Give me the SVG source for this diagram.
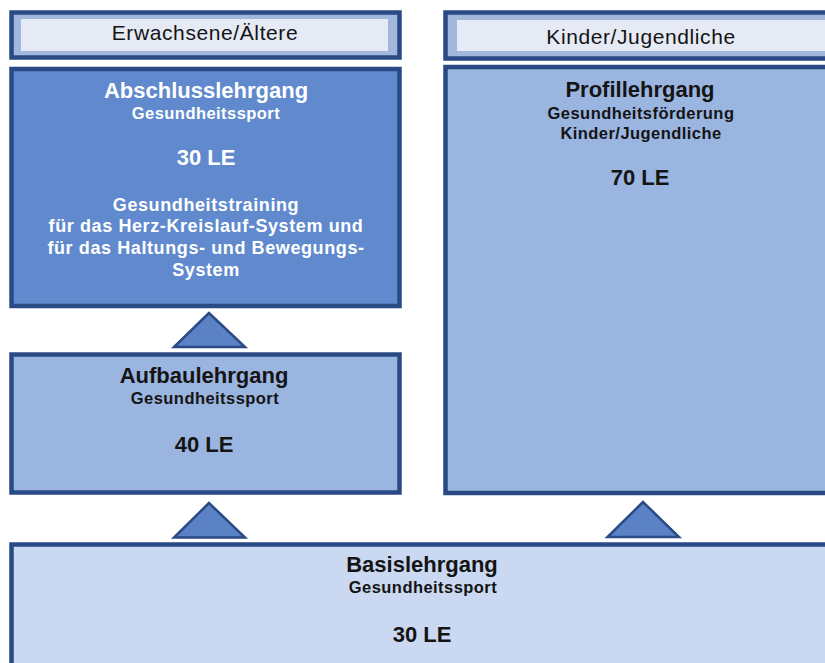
<svg xmlns="http://www.w3.org/2000/svg" width="825" height="663" viewBox="0 0 825 663">
<style>
text{font-family:"Liberation Sans",Arial,sans-serif;text-anchor:middle;fill:#141414}
.hdr{font-size:21px;letter-spacing:0.6px}
.t{font-size:22px;font-weight:bold}
.s{font-size:16.5px;font-weight:bold;letter-spacing:0.45px}
.b{font-size:18px;font-weight:bold;letter-spacing:0.6px}
.w{fill:#ffffff}
.frame{stroke:#294a85;stroke-width:4.5}
.hout{fill:#a2b7dc}
.hin{fill:#e5eaf4}
.tri{fill:#5b82c4;stroke:#294a85;stroke-width:2.5;stroke-linejoin:miter}
</style>
<rect width="825" height="663" fill="#ffffff"/>
<g id="header-left">
<rect class="frame hout" x="11.5" y="12.5" width="388" height="45"/>
<rect class="hin" x="21" y="19" width="367" height="32"/>
<text class="hdr" x="205" y="40">Erwachsene/Ältere</text>
</g>
<g id="header-right">
<rect class="frame hout" x="445.5" y="12.5" width="400" height="46"/>
<rect class="hin" x="457" y="20" width="380" height="31"/>
<text class="hdr" x="641" y="44">Kinder/Jugendliche</text>
</g>
<g id="abschluss">
<rect class="frame" fill="#608acd" x="11.5" y="69" width="388" height="237"/>
<text class="t w" x="206" y="98">Abschlusslehrgang</text>
<text class="s w" x="206" y="119">Gesundheitssport</text>
<text class="t w" x="206" y="165">30 LE</text>
<text class="b w" x="206" y="211">Gesundheitstraining</text>
<text class="b w" x="206" y="232">für das Herz-Kreislauf-System und</text>
<text class="b w" x="206" y="254">für das Haltungs- und Bewegungs-</text>
<text class="b w" x="206" y="276">System</text>
</g>
<g id="profil">
<rect class="frame" fill="#9bb5e1" x="445.5" y="67" width="400" height="426"/>
<text class="t" x="640" y="97">Profillehrgang</text>
<text class="s" x="641" y="119">Gesundheitsförderung</text>
<text class="s" x="641" y="139">Kinder/Jugendliche</text>
<text class="t" x="640" y="185">70 LE</text>
</g>
<g id="aufbau">
<rect class="frame" fill="#9bb5e1" x="11.5" y="354.5" width="388" height="138"/>
<text class="t" x="204" y="383">Aufbaulehrgang</text>
<text class="s" x="205" y="404">Gesundheitssport</text>
<text class="t" x="204" y="452">40 LE</text>
</g>
<g id="basis">
<rect class="frame" fill="#cad8f1" x="11.5" y="544.5" width="830" height="130"/>
<text class="t" x="422" y="572">Basislehrgang</text>
<text class="s" x="423" y="593">Gesundheitssport</text>
<text class="t" x="422" y="642">30 LE</text>
</g>
<g id="connectors">
<polygon class="tri" points="209,313 174,347 245,347"/>
<polygon class="tri" points="209,503 174,537.5 245,537.5"/>
<polygon class="tri" points="643,502 607.5,537 679,537"/>
</g>
</svg>
